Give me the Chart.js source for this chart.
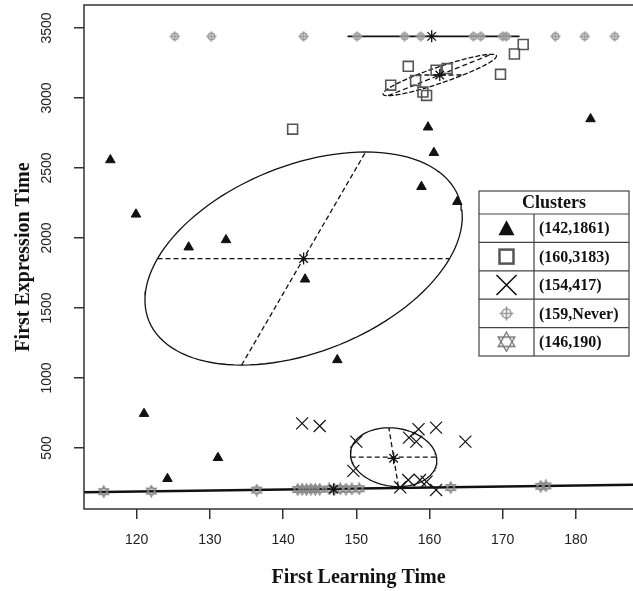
<!DOCTYPE html>
<html>
<head>
<meta charset="utf-8">
<script src="https://cdn.jsdelivr.net/npm/chart.js@4.4.1/dist/chart.umd.min.js"></script>
<style>
  html, body { margin: 0; padding: 0; background: #fff; }
</style>
</head>
<body>
<canvas id="chart" width="633" height="591"></canvas>
<script>
// axis ticks
const xTicks = [120, 130, 140, 150, 160, 170, 180];
const yTicks = [500, 1000, 1500, 2000, 2500, 3000, 3500];

// cluster 1 (142,1861) - filled triangles
const c1x = [116.4, 119.9, 127.1, 132.2, 143.0, 147.4, 159.8, 160.6, 158.9, 163.8, 182.0, 121.0, 124.2, 131.1];
const c1y = [2557, 2169, 1934, 1986, 1705, 1129, 2791, 2609, 2366, 2259, 2850, 745, 280, 430];

// cluster 2 (160,3183) - open squares
const c2x = [141.3, 157.1, 154.7, 158.1, 160.9, 162.4, 159.1, 159.6, 169.7, 171.6, 172.8];
const c2y = [2777, 3226, 3091, 3125, 3198, 3210, 3042, 3018, 3169, 3314, 3382];

// cluster 3 (154,417) - crosses
const c3x = [142.6, 145.0, 150.0, 149.6, 158.5, 157.2, 158.2, 160.9, 164.9, 156.0, 157.1, 158.7, 159.6, 160.9];
const c3y = [676, 657, 545, 336, 634, 574, 545, 645, 545, 219, 271, 271, 259, 200];

// cluster 4 (159,Never) - circle plus, plotted on the "never" row
const c4x = [125.2, 130.2, 142.8, 150.1, 156.6, 158.8, 166.0, 167.0, 170.0, 170.5, 177.2, 181.2, 185.3];
const c4y = [3440, 3440, 3440, 3440, 3440, 3440, 3440, 3440, 3440, 3440, 3440, 3440, 3440];

// cluster 5 (146,190) - sextiles
const c5x = [115.5, 122.0, 136.4, 142.0, 142.6, 143.2, 143.8, 144.4, 145.0, 146.3, 147.0, 147.8, 148.6, 149.4, 150.4, 162.9, 175.2, 175.9];
const c5y = [188, 192, 199, 203, 205, 203, 206, 204, 205, 207, 205, 208, 206, 207, 209, 217, 226, 229];

// cluster centres (stars)
const centerX = [142.8, 161.4, 155.1, 160.3, 146.9];
const centerY = [1853, 3164, 426, 3440, 205];

// ellipses: centre x, centre y, first half axis (x, y), conjugate half axis (x, y)
const ell1 = [142.8, 1853, 19.95, 0, 8.47, 761];
const ell2 = [161.4, 3164, 3.18, 0, 7.06, 148];
const ell3 = [155.1, 434, 5.86, 0, -0.65, 210];
// degenerate ellipses drawn as lines
const line4x = [148.8, 172.3];
const line4y = [3440, 3440];
const line5x = [112.8, 187.8];
const line5y = [183, 238];

const legendLabels = ['(142,1861)', '(160,3183)', '(154,417)', '(159,Never)', '(146,190)'];

const pts = (xs, ys) => xs.map((x, i) => ({ x: x, y: ys[i] }));

function ellipsePts(p) {
  const [cx, cy, ax, ay, bx, by] = p;
  const out = [];
  for (let i = 0; i <= 120; i++) {
    const t = i / 120 * Math.PI * 2;
    out.push({ x: cx + ax * Math.cos(t) + bx * Math.sin(t), y: cy + ay * Math.cos(t) + by * Math.sin(t) });
  }
  return out;
}
function axisPts(p, k) {
  const [cx, cy] = p;
  const dx = p[2 + k * 2], dy = p[3 + k * 2];
  return [{ x: cx - dx, y: cy - dy }, { x: cx + dx, y: cy + dy }];
}

function circlePlus(size, color) {
  const c = document.createElement('canvas');
  c.width = size; c.height = size;
  const g = c.getContext('2d');
  const m = size / 2;
  g.strokeStyle = color; g.lineWidth = 1.6;
  g.beginPath(); g.arc(m, m, size * 0.3, 0, Math.PI * 2); g.stroke();
  g.beginPath();
  g.moveTo(m, 0.5); g.lineTo(m, size - 0.5);
  g.moveTo(0.5, m); g.lineTo(size - 0.5, m);
  g.stroke();
  return c;
}
function sextile(size, color) {
  const c = document.createElement('canvas');
  c.width = size; c.height = size;
  const g = c.getContext('2d');
  const m = size / 2, r = size / 2 - 1;
  g.strokeStyle = color; g.lineWidth = 1.4;
  g.beginPath();
  g.moveTo(m, m - r); g.lineTo(m + r * 0.87, m + r * 0.5); g.lineTo(m - r * 0.87, m + r * 0.5); g.closePath();
  g.moveTo(m, m + r); g.lineTo(m + r * 0.87, m - r * 0.5); g.lineTo(m - r * 0.87, m - r * 0.5); g.closePath();
  g.stroke();
  return c;
}

const neverImg = circlePlus(11, '#999');
const sextImg = sextile(13, '#8a8a8a');
const neverBig = circlePlus(15, '#999');
const sextBig = sextile(21, '#777');

const lineDs = (data, dash, width) => ({
  type: 'scatter', data: data, showLine: true, pointRadius: 0, borderColor: '#111',
  borderWidth: width, borderDash: dash, fill: false, tension: 0
});

const framePlugin = {
  id: 'frame',
  afterDraw(chart) {
    const { ctx, chartArea: a } = chart;
    ctx.save();
    ctx.strokeStyle = '#333';
    ctx.lineWidth = 1.5;
    ctx.strokeRect(a.left, a.top, a.right - a.left + 10, a.bottom - a.top);

    // legend table
    const L = 479, R = 629, T = 191, H = 23, rh = 28.4, D = 534;
    const B = T + H + rh * 5;
    ctx.fillStyle = '#fff';
    ctx.fillRect(L, T, R - L, B - T);
    ctx.strokeStyle = '#444';
    ctx.lineWidth = 1.2;
    ctx.strokeRect(L, T, R - L, B - T);
    ctx.beginPath();
    for (let i = 0; i < 5; i++) {
      const y = T + H + rh * i;
      ctx.moveTo(L, y); ctx.lineTo(R, y);
    }
    ctx.moveTo(D, T + H); ctx.lineTo(D, B);
    ctx.stroke();

    ctx.fillStyle = '#111';
    ctx.textBaseline = 'middle';
    ctx.textAlign = 'center';
    ctx.font = 'bold 18px "Liberation Serif", "Times New Roman", serif';
    ctx.fillText('Clusters', (L + R) / 2, T + H / 2 + 1);
    ctx.textAlign = 'left';
    ctx.font = 'bold 16px "Liberation Serif", "Times New Roman", serif';
    const sx = (L + D) / 2;
    legendLabels.forEach((lab, i) => {
      const cy = T + H + rh * i + rh / 2;
      ctx.fillStyle = '#111';
      ctx.fillText(lab, D + 5, cy + 1);
      ctx.beginPath();
      if (i === 0) {
        ctx.moveTo(sx, cy - 8); ctx.lineTo(sx + 8, cy + 7); ctx.lineTo(sx - 8, cy + 7); ctx.closePath();
        ctx.fillStyle = '#111'; ctx.fill();
      } else if (i === 1) {
        ctx.strokeStyle = '#555'; ctx.lineWidth = 2.5;
        ctx.strokeRect(sx - 7, cy - 7, 14, 14);
      } else if (i === 2) {
        ctx.strokeStyle = '#111'; ctx.lineWidth = 1.6;
        ctx.moveTo(sx - 10, cy - 10); ctx.lineTo(sx + 10, cy + 10);
        ctx.moveTo(sx + 10, cy - 10); ctx.lineTo(sx - 10, cy + 10);
        ctx.stroke();
      } else if (i === 3) {
        ctx.drawImage(neverBig, sx - 7.5, cy - 7.5);
      } else {
        ctx.drawImage(sextBig, sx - 10.5, cy - 10.5);
      }
    });
    ctx.restore();
  }
};

const serif = '"Liberation Serif", "Times New Roman", serif';
const sans = '"Liberation Sans", Arial, sans-serif';

new Chart(document.getElementById('chart'), {
  type: 'scatter',
  data: {
    datasets: [
      { data: pts(centerX, centerY), pointStyle: 'star', pointRadius: 6, borderColor: '#111', borderWidth: 1.3, backgroundColor: '#111' },
      { data: pts(c1x, c1y), pointStyle: 'triangle', pointRadius: 5.5, backgroundColor: '#111', borderColor: '#111', borderWidth: 1 },
      { data: pts(c2x, c2y), pointStyle: 'rect', pointRadius: 7, backgroundColor: 'rgba(0,0,0,0)', borderColor: '#555', borderWidth: 1.6 },
      { data: pts(c3x, c3y), pointStyle: 'crossRot', pointRadius: 8.5, borderColor: '#111', borderWidth: 1.2 },
      { data: pts(c4x, c4y), pointStyle: neverImg },
      { data: pts(c5x, c5y), pointStyle: sextImg },
      lineDs(ellipsePts(ell1), [], 1.3),
      lineDs(axisPts(ell1, 0), [5, 3], 1.3),
      lineDs(axisPts(ell1, 1), [5, 3], 1.3),
      lineDs(ellipsePts(ell2), [5, 2], 1.3),
      lineDs(axisPts(ell2, 0), [5, 3], 1.3),
      lineDs(axisPts(ell2, 1), [5, 3], 1.3),
      lineDs(ellipsePts(ell3), [], 1.3),
      lineDs(axisPts(ell3, 0), [5, 3], 1.3),
      lineDs(axisPts(ell3, 1), [5, 3], 1.3),
      lineDs(pts(line4x, line4y), [], 1.6),
      lineDs(pts(line5x, line5y), [], 2.5)
    ]
  },
  options: {
    responsive: false,
    animation: false,
    layout: { autoPadding: false, padding: { top: 5, right: 0, bottom: 0, left: 0 } },
    plugins: { legend: { display: false }, tooltip: { enabled: false } },
    scales: {
      x: {
        type: 'linear', min: 112.8, max: 187.8,
        afterBuildTicks: s => { s.ticks = xTicks.map(v => ({ value: v })); },
        afterFit: s => { s.height = 82; s.paddingLeft = 0; s.paddingRight = 0; },
        grid: { drawOnChartArea: false, tickLength: 10, color: '#333', lineWidth: 1.5 },
        border: { display: false },
        ticks: { font: { family: sans, size: 14 }, color: '#222', padding: 13, minRotation: 0, maxRotation: 0, callback: v => String(v) },
        title: { display: true, text: 'First Learning Time', color: '#111', font: { family: serif, size: 20, weight: 'bold' }, padding: { top: 0, bottom: 1 } }
      },
      y: {
        type: 'linear', min: 64, max: 3664,
        afterBuildTicks: s => { s.ticks = yTicks.map(v => ({ value: v })); },
        afterFit: s => { s.width = 84; s.paddingTop = 0; s.paddingBottom = 0; },
        grid: { drawOnChartArea: false, tickLength: 10, color: '#333', lineWidth: 1.5 },
        border: { display: false },
        ticks: { font: { family: sans, size: 14 }, color: '#222', padding: 11, minRotation: 90, maxRotation: 90, crossAlign: 'center', callback: v => String(v) },
        title: { display: true, text: 'First Expression Time', color: '#111', font: { family: serif, size: 20, weight: 'bold' }, padding: { top: 12, bottom: 0 } }
      }
    }
  },
  plugins: [framePlugin]
});
</script>
</body>
</html>
